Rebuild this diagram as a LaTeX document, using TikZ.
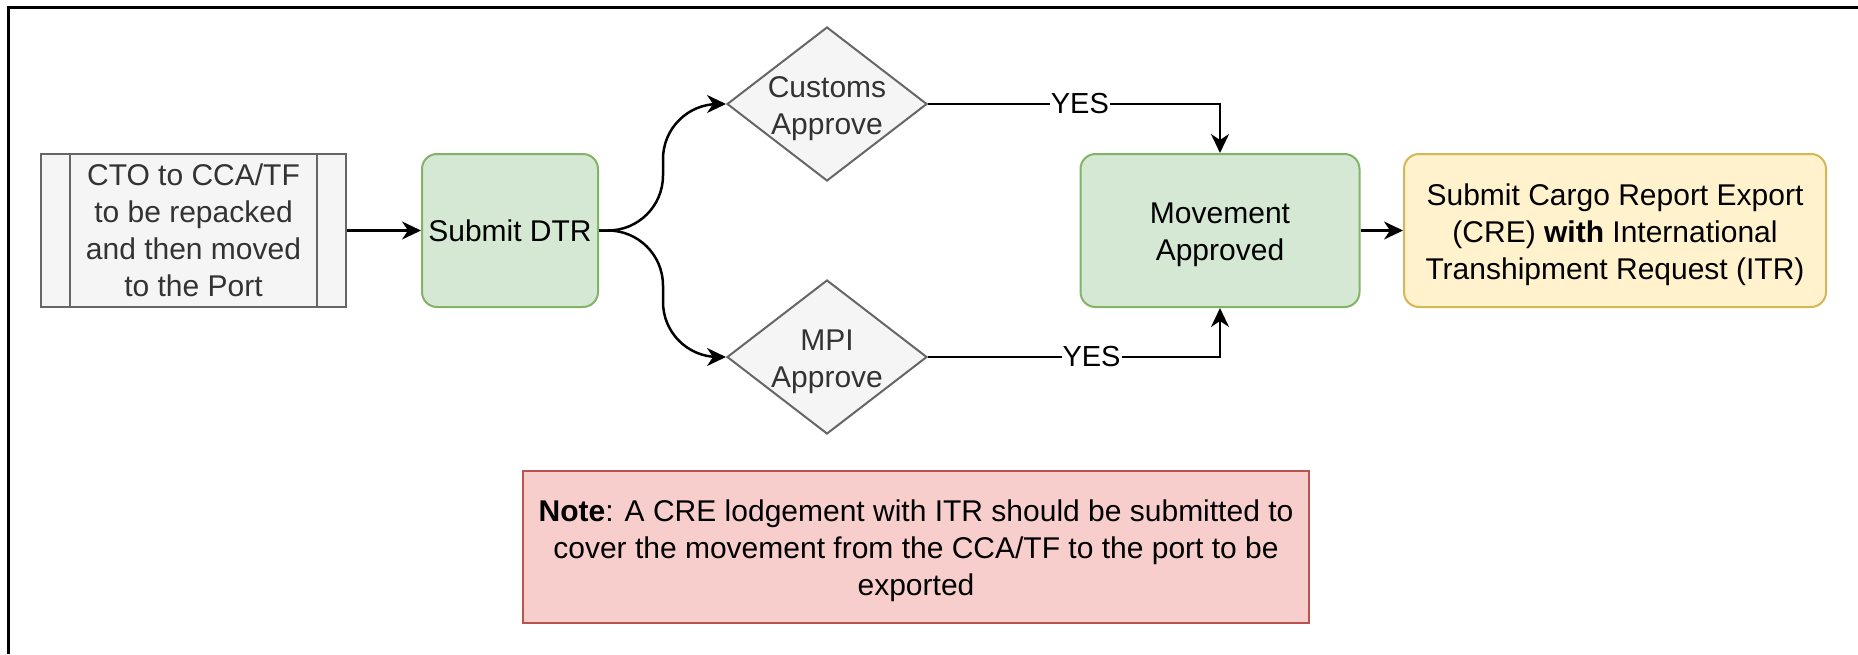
\documentclass[tikz,border=0pt]{standalone}
\usepackage{fontspec}
\setmainfont{Liberation Sans}
\usetikzlibrary{shapes.geometric,arrows.meta,positioning}

% draw.io style colours
\definecolor{greyfill}{HTML}{F5F5F5}
\definecolor{greyline}{HTML}{666666}
\definecolor{greytext}{HTML}{333333}
\definecolor{greenfill}{HTML}{D5E8D4}
\definecolor{greenline}{HTML}{82B366}
\definecolor{yellowfill}{HTML}{FFF2CC}
\definecolor{yellowline}{HTML}{D6B656}
\definecolor{redfill}{HTML}{F8CECC}
\definecolor{redline}{HTML}{B85450}

% taller first line, so text with descenders sits a bit lower
\newcommand\topstrut{\rule{0pt}{30pt}}

\tikzset{
  box/.style={draw, line width=2pt, minimum height=153pt, align=center,
    inner sep=0pt, font=\fontsize{30}{37}\selectfont},
  process/.style={box, fill=greyfill, draw=greyline, text=greytext},
  task/.style={box, rounded corners=15pt, fill=greenfill, draw=greenline},
  output/.style={box, rounded corners=15pt, fill=yellowfill, draw=yellowline},
  notebox/.style={box, fill=redfill, draw=redline, minimum height=152pt},
  decision/.style={diamond, draw=greyline, fill=greyfill, line width=2pt,
    minimum width=200pt, minimum height=154pt, inner sep=0pt},
  decisiontext/.style={text=greytext, align=center, inner sep=0pt,
    font=\fontsize{30}{37}\selectfont},
  flow/.style={-{Stealth[length=19pt,width=18pt,inset=6pt]}, line width=2.5pt},
  yes/.style={fill=white, inner sep=1pt, font=\fontsize{29}{32}\selectfont}
}

\begin{document}
\begin{tikzpicture}[x=1pt,y=-1pt]

% Size of the page
\useasboundingbox (0,0) rectangle (1858,654);

% Frame, cut at the right and bottom
\draw[line width=3.5pt] (8.5,654) -- (8.5,7.5) -- (1858,7.5);

% The boxes in the row
\node[process, minimum width=305pt] (cto) at (193.5,230.5)
  {CTO to CCA/TF\\to be repacked\\and then moved\\to the Port};
\draw[greyline, line width=2pt] ([xshift=30pt]cto.north west) -- ([xshift=30pt]cto.south west);
\draw[greyline, line width=2pt] ([xshift=-30pt]cto.north east) -- ([xshift=-30pt]cto.south east);

\node[task, minimum width=176pt] (dtr) at (510,230.5) {Submit DTR};
\node[task, minimum width=279pt] (moved) at (1220,230.5) {\topstrut Movement\\Approved};
\node[output, minimum width=422pt] (cre) at (1615,230.5)
  {\topstrut Submit Cargo Report Export\\(CRE) \textbf{with} International\\Transhipment Request (ITR)};

% The two checks
\node[decision, label={[decisiontext]center:\topstrut Customs\\Approve}] (customs) at (827,104) {};
\node[decision, label={[decisiontext]center:\topstrut MPI\\Approve}] (mpi) at (827,357) {};

% Note below
\node[notebox, minimum width=786pt] (note) at (916,546.5)
  {\topstrut\textbf{Note}: A CRE lodgement with ITR should be submitted to\\cover the movement from the CCA/TF to the port to be\\exported};

% Connectors
\draw[flow] (cto) -- (dtr);
\draw[flow, rounded corners=55pt] (dtr.east) -- ++(64pt,0) |- (customs.west);
\draw[flow, rounded corners=55pt] (dtr.east) -- ++(64pt,0) |- (mpi.west);
\draw[flow] (customs.east) -| node[yes, pos=0.26] {YES} (moved.north);
\draw[flow] (mpi.east) -| node[yes, pos=0.28] {YES} (moved.south);
\draw[flow] (moved) -- (cre);

\end{tikzpicture}
\end{document}
